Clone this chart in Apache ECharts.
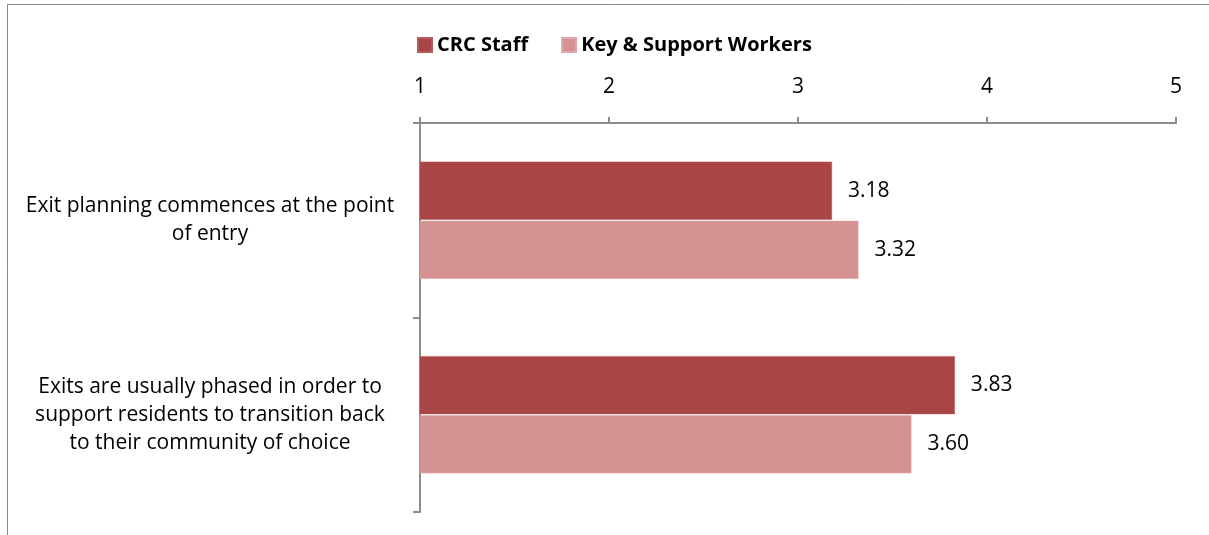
<!DOCTYPE html>
<html>
<head>
<meta charset="utf-8">
<script src="https://cdn.jsdelivr.net/npm/echarts@6/dist/echarts.min.js"></script>
<style>
  html, body { margin: 0; padding: 0; background: #fff; }
  #chart { width: 1209px; height: 535px; }
</style>
</head>
<body>
<div id="chart"></div>
<script>
// Survey statements (top to bottom)
const categories = [
  ['Exit planning commences at the point', 'of entry'],
  ['Exits are usually phased in order to', 'support residents to transition back', 'to their community of choice']
];
const seriesNames = ['CRC Staff', 'Key & Support Workers'];
const crcStaff = [3.18, 3.83];
const keySupport = [3.32, 3.60];
const valueTicks = [1, 2, 3, 4, 5];

const FONT = '"Open Sans", Lato, sans-serif';
const axisGrey = '#8c8c8c';

const chart = echarts.init(document.getElementById('chart'), null, { renderer: 'canvas' });

chart.setOption({
  backgroundColor: '#fff',
  animation: false,
  graphic: [{
    type: 'rect',
    shape: { x: 7.5, y: 4.5, width: 1300, height: 600 },
    style: { fill: 'none', stroke: '#888', lineWidth: 1 },
    silent: true
  }],
  legend: {
    top: 30,
    left: 412,
    itemWidth: 14,
    itemHeight: 14,
    itemGap: 33,
    icon: 'rect',
    textStyle: { fontFamily: FONT, fontSize: 20, fontWeight: 'bold', color: '#000' },
    data: seriesNames
  },
  grid: { left: 420, right: 33, top: 123, bottom: 23, containLabel: false },
  xAxis: {
    type: 'value',
    position: 'top',
    min: valueTicks[0],
    max: valueTicks[valueTicks.length - 1],
    interval: 1,
    splitLine: { show: false },
    axisLine: { show: true, lineStyle: { color: axisGrey, width: 2 } },
    axisTick: { show: true, length: 6, lineStyle: { color: axisGrey, width: 2 } },
    axisLabel: { margin: 25, fontFamily: FONT, fontSize: 21, color: '#000' }
  },
  yAxis: {
    type: 'category',
    inverse: true,
    data: categories.map(c => c.join('\n')),
    axisLine: { show: true, lineStyle: { color: axisGrey, width: 2 } },
    axisTick: { show: true, length: 7, lineStyle: { color: axisGrey, width: 2 } },
    axisLabel: {
      margin: 24,
      align: 'right',
      formatter: function (v) {
        return v.split('\n').map(s => '{a|' + s + '}').join('\n');
      },
      rich: {
        a: { width: 372, align: 'center', fontFamily: FONT, fontSize: 21, lineHeight: 28, color: '#000' }
      }
    }
  },
  series: [
    {
      name: seriesNames[0],
      type: 'bar',
      data: crcStaff,
      barWidth: 58,
      barGap: '2%',
      itemStyle: { color: '#AA4546', borderColor: '#B85A5A', borderWidth: 0.5 },
      label: {
        show: true, position: 'right', distance: 16,
        formatter: p => p.value.toFixed(2),
        fontFamily: FONT, fontSize: 21, color: '#000'
      }
    },
    {
      name: seriesNames[1],
      type: 'bar',
      data: keySupport,
      barWidth: 58,
      barGap: '2%',
      itemStyle: { color: '#D49292', borderColor: '#E0A8A8', borderWidth: 0.5 },
      label: {
        show: true, position: 'right', distance: 16,
        formatter: p => p.value.toFixed(2),
        fontFamily: FONT, fontSize: 21, color: '#000'
      }
    }
  ]
});
</script>
</body>
</html>
